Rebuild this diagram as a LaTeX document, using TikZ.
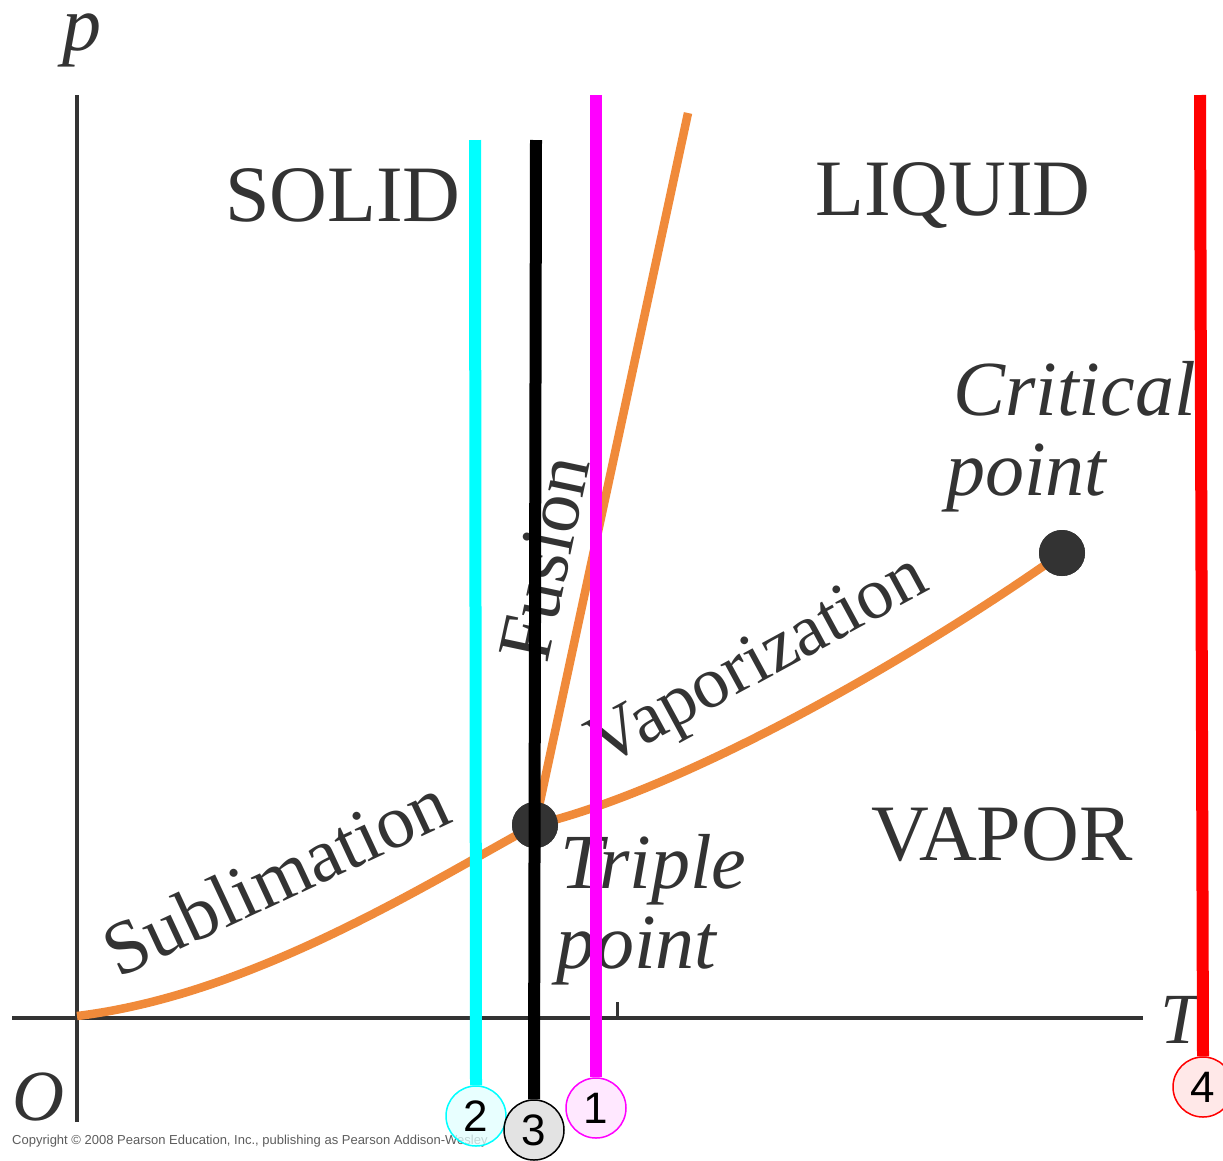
\documentclass[tikz,border=0pt]{standalone}
\usepackage{fontspec}
\setmainfont{Liberation Serif}
\newfontfamily\arialf{Liberation Sans}
\definecolor{ink}{HTML}{333333}
\definecolor{curve}{HTML}{F08A3A}
\definecolor{cyn}{HTML}{00FFFF}
\definecolor{mgt}{HTML}{FF00FF}
\definecolor{rd}{HTML}{FF0000}
\begin{document}
\begin{tikzpicture}[x=1pt,y=-1pt,
  axis/.style={draw=ink,line width=4pt},
  phase/.style={draw=curve,line width=8.5pt},
  region/.style={text=ink,font=\fontsize{80}{80}\selectfont,inner sep=0pt},
  ital/.style={text=ink,font=\fontsize{78}{80}\selectfont\itshape,inner sep=0pt},
  curvelbl/.style={text=ink,font=\fontsize{76}{80}\selectfont,inner sep=0pt},
  dot/.style={circle,fill=ink,minimum size=46pt,inner sep=0pt},
  tline/.style={line width=12pt},
  tag/.style={circle,draw,line width=1.5pt,minimum size=60pt,inner sep=0pt,fill opacity=0.75,text opacity=1,font=\arialf\fontsize{44}{44}\selectfont}
]
\useasboundingbox (0,0) rectangle (1223,1160);
% axes
\coordinate (ytop) at (77,95);
\coordinate (ybot) at (77,1122);
\coordinate (xl) at (12,1018);
\coordinate (xr) at (1143,1018);
\draw[axis] (ybot) -- (ytop);
\draw[axis] (xl) -- (xr);
\coordinate (tk1) at (617,1002);
\coordinate (tk2) at (617,1018);
\draw[draw=ink,line width=3pt] (tk1) -- (tk2);
\node[ital,anchor=base west] (plbl) at (62,50) {p};
\node[ital,font=\fontsize{72}{72}\selectfont\itshape,anchor=base west] (olbl) at (12,1120) {O};
\node[ital,font=\fontsize{72}{72}\selectfont\itshape,anchor=base west] (tlbl) at (1160,1043) {T};
% points
\coordinate (orig) at (77,1016);
\node[dot] (triple) at (535,825) {};
\node[dot] (crit) at (1062,553) {};
\coordinate (fustop) at (688,113);
% curves
\draw[phase] (orig) .. controls (250,995) and (420,888) .. (triple.center);
\draw[phase] (triple.center) -- (fustop);
\draw[phase] (triple.center) .. controls (700,785) and (940,640) .. (crit.center);
\node[dot] at (triple) {};
\node[dot] at (crit) {};
% region labels
\node[region] (solid) at (343,195) {SOLID};
\node[region] (liquid) at (953,195) {LIQUID};
\node[region] (vapor) at (1002,835) {VAPOR};
% curve labels
\node[curvelbl,rotate=25] (subl) at (276,876) {Sublimation};
\node[curvelbl,font=\fontsize{73}{80}\selectfont,rotate=28.5] (vap) at (760,664) {Vaporization};
\node[curvelbl,rotate=78] (fus) at (545,558) {Fusion};
\node[ital,anchor=base west] (tp1) at (560,888) {Triple};
\node[ital,anchor=base west] (tp2) at (556,968) {point};
\node[ital,anchor=base west] (cp1) at (953,415) {Critical};
\node[ital,anchor=base west] (cp2) at (946,495) {point};
% copyright
\node[anchor=base west,inner sep=0pt,text=ink!80,font=\arialf\fontsize{13}{13}\selectfont] (copy) at (12,1144) {Copyright \textcopyright\ 2008 Pearson Education, Inc., publishing as Pearson Addison-Wesley.};
% temperature lines
\node[tag,draw=cyn,fill=cyn!12] (t2) at (476,1116) {2};
\node[tag,draw=black,fill=black!15] (t3) at (534,1130) {3};
\node[tag,draw=mgt,fill=mgt!12] (t1) at (596,1108) {1};
\node[tag,draw=rd,fill=rd!12] (t4) at (1203,1087) {4};
\coordinate (c2) at (475,140);
\coordinate (c3) at (536,140);
\coordinate (c1) at (596,95);
\coordinate (c4) at (1200,95);
\draw[tline,cyn] (c2) -- (t2.north);
\draw[tline,black] (c3) -- (t3.north);
\draw[tline,mgt] (c1) -- (t1.north);
\draw[tline,rd] (c4) -- (t4.north);
\end{tikzpicture}
\end{document}
